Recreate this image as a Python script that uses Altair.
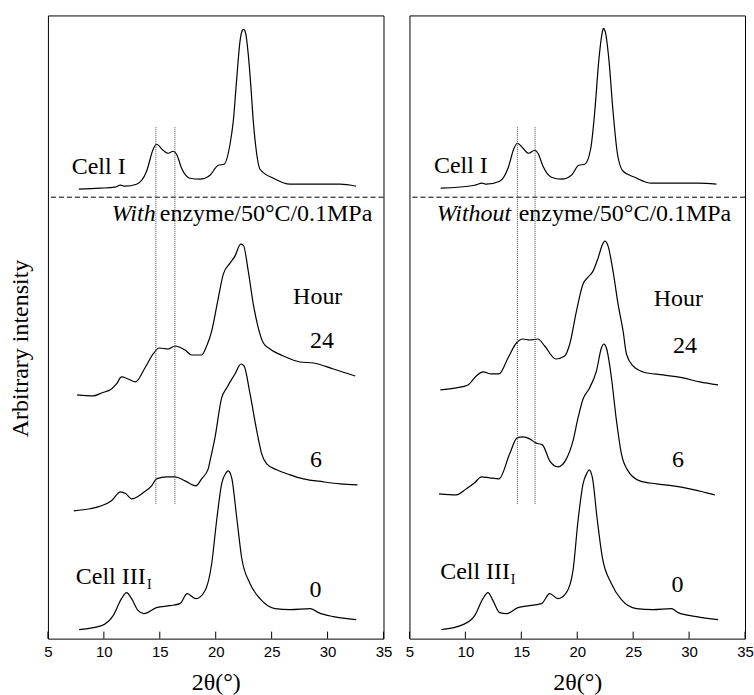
import altair as alt
import pandas as pd

# ---------------- data (2theta in degrees, arbitrary intensity incl. offsets) -------------
# Left panel: With enzyme
L_cell1_x = [7.76, 9.64, 10.98, 11.49, 11.88, 12.92, 13.82, 14.41, 14.71, 15.30, 15.75, 16.20, 16.50, 16.95, 17.70, 18.59, 19.49, 20.23, 20.74, 21.28, 21.57, 21.88, 22.17, 22.38, 22.50, 22.68, 22.91, 23.13, 23.36, 23.60, 23.96, 25.15, 26.65, 29.04, 31.13, 32.56]
L_cell1_y = [450, 451, 452, 454, 453, 455, 468, 490, 495, 489, 486, 488, 485, 471, 461, 460, 464, 474, 475, 495, 518, 561, 598, 609, 610, 606, 585, 555, 518, 491, 470, 461, 455, 455, 455, 453]

L_h24_x = [7.61, 9.04, 9.79, 10.68, 11.13, 11.58, 12.17, 12.83, 13.67, 14.41, 14.95, 15.75, 16.35, 17.25, 17.85, 18.74, 19.19, 19.64, 19.78, 20.23, 20.68, 21.28, 21.72, 22.23, 22.47, 22.91, 23.36, 23.81, 24.26, 24.86, 26.05, 27.54, 28.73, 30.52, 32.47]
L_h24_y = [244, 243, 246, 250, 255, 262, 260, 257, 271, 285, 291, 290, 293, 289, 284, 284, 293, 308, 315, 341, 365, 376, 383, 395, 394, 368, 335, 311, 296, 290, 283, 277, 276, 270, 263]

L_h6_x = [7.31, 8.74, 9.79, 10.68, 11.49, 11.97, 12.48, 13.51, 14.27, 14.71, 15.61, 16.35, 17.25, 18.23, 18.74, 19.33, 19.49, 19.93, 20.53, 20.98, 21.72, 22.26, 22.53, 23.07, 23.67, 24.11, 24.56, 25.46, 26.65, 27.84, 29.63, 31.12, 32.67]
L_h6_y = [128, 130, 133, 138, 147, 145, 140, 146, 153, 160, 162, 162, 158, 153, 160, 170, 178, 201, 241, 251, 265, 275, 273, 245, 208, 185, 175, 169, 164, 160, 157, 155, 154]

L_h0_x = [7.78, 9.79, 10.83, 11.58, 12.03, 12.48, 13.07, 13.58, 14.71, 15.90, 16.80, 17.45, 18.23, 19.04, 19.64, 20.08, 20.53, 20.92, 21.12, 21.43, 21.88, 22.32, 23.07, 23.96, 25.30, 26.65, 28.44, 29.18, 30.52, 32.56]
L_h0_y = [9, 13, 23, 40, 46, 40, 28, 25, 31, 33, 35, 45, 40, 48, 75, 118, 155, 166, 168, 161, 121, 81, 55, 40, 30, 29, 30, 26, 22, 19]

# Right panel: Without enzyme
R_cell1_x = [7.79, 10.83, 11.49, 11.88, 13.07, 13.81, 14.35, 14.65, 15.15, 15.66, 16.20, 16.49, 16.94, 17.69, 18.59, 19.48, 20.13, 20.67, 21.21, 21.57, 21.92, 22.22, 22.34, 22.52, 22.82, 23.20, 23.60, 24.10, 25.14, 26.64, 28.72, 30.81, 32.45]
R_cell1_y = [451, 454, 456, 455, 458, 471, 491, 496, 491, 486, 489, 486, 473, 462, 460, 464, 474, 475, 491, 528, 578, 606, 611, 607, 581, 528, 485, 468, 462, 456, 456, 456, 455]

R_h24_x = [7.76, 9.19, 10.23, 10.98, 11.57, 12.33, 13.0, 13.81, 14.56, 15.15, 15.75, 16.49, 17.09, 18.08, 18.88, 19.33, 19.93, 20.52, 20.97, 21.41, 21.86, 22.31, 22.46, 22.76, 23.20, 23.65, 24.10, 24.40, 24.99, 25.89, 27.67, 29.46, 30.96, 32.59]
R_h24_y = [249, 251, 254, 263, 267, 265, 265, 281, 296, 300, 299, 300, 293, 280, 283, 295, 328, 355, 362, 368, 381, 396, 398, 393, 368, 335, 308, 285, 273, 267, 264, 261, 257, 254]

R_h6_x = [7.64, 9.19, 10.09, 10.83, 11.43, 12.17, 13.0, 13.96, 14.62, 15.15, 15.75, 16.29, 16.89, 17.54, 18.28, 19.03, 19.62, 20.07, 20.52, 21.05, 21.72, 22.16, 22.37, 22.61, 23.06, 23.51, 23.95, 24.54, 25.59, 27.08, 28.57, 30.06, 31.56, 32.30]
R_h6_y = [145, 144, 150, 156, 162, 161, 160, 185, 201, 202, 200, 196, 194, 178, 172, 180, 198, 221, 240, 250, 268, 291, 295, 291, 261, 218, 185, 168, 158, 155, 153, 150, 146, 144]

R_h0_x = [7.85, 9.79, 10.83, 11.57, 12.02, 12.47, 13.07, 13.67, 14.70, 15.75, 16.80, 17.54, 18.28, 19.03, 19.62, 20.07, 20.52, 20.88, 21.06, 21.36, 21.77, 22.25, 23.06, 23.95, 25.30, 26.78, 28.43, 29.02, 30.66, 32.59]
R_h0_y = [9, 14, 23, 40, 46, 38, 26, 25, 31, 33, 35, 45, 40, 46, 68, 118, 155, 166, 169, 161, 121, 81, 55, 39, 30, 29, 30, 26, 22, 19]

# separator and reference lines
sep_level = [442]
L_vline_x = [14.65, 16.35]
R_vline_x = [14.65, 16.23]
vline_lo = 135
vline_hi = 512
tick_values = [5, 10, 15, 20, 25, 30, 35]

# annotation texts
L_text = ["Cell I", "enzyme/50°C/0.1MPa", "Hour", "24", "6", "0", "Cell III"]
L_text_x = [7.13, 15.0, 26.92, 28.44, 28.44, 28.38, 7.49]
L_text_y = [465, 418, 335, 291, 172, 42, 55]
R_text = ["Cell I", "enzyme/50°C/0.1MPa", "Hour", "24", "6", "0", "Cell III"]
R_text_x = [7.19, 14.77, 26.84, 28.57, 28.48, 28.43, 7.75]
R_text_y = [466, 418, 333, 286, 172, 47, 60]
L_ital = ["With"]; L_ital_x = [10.7]; L_ital_y = [418]
R_ital = ["Without"]; R_ital_x = [7.43]; R_ital_y = [418]
L_sub = ["I"]; L_sub_x = [13.85]; L_sub_y = [50]
R_sub = ["I"]; R_sub_x = [14.05]; R_sub_y = [55]

SERIF = "Liberation Serif, 'Times New Roman', Times, 'DejaVu Serif', serif"
SANS = "Liberation Sans, Arial, Helvetica, sans-serif"
FS = 24
W, H = 336, 624

xs = alt.Scale(domain=[5, 35], nice=False, zero=False)
ys = alt.Scale(domain=[0, 624], nice=False, zero=False)


def xenc(field="x"):
    return alt.X(f"{field}:Q", scale=xs, title="2θ(°)",
                 axis=alt.Axis(values=tick_values, format="d", ticks=False, domain=False, grid=False,
                               labelFont=SANS, labelFontSize=15, labelColor="black",
                               labelPadding=6, labelFlush=False, labelOverlap=False,
                               titleFont=SERIF, titleFontSize=FS, titleFontWeight="normal",
                               titleColor="black", titlePadding=11))


def yenc(show_title, field="y"):
    if show_title:
        ax = alt.Axis(labels=False, ticks=False, domain=False, grid=False,
                      titleFont=SERIF, titleFontSize=FS, titleFontWeight="normal",
                      titleColor="black", titlePadding=15, titleY=333)
        return alt.Y(f"{field}:Q", scale=ys, title="Arbitrary intensity", axis=ax)
    return alt.Y(f"{field}:Q", scale=ys, axis=None)


def panel(curves, vx, texts, ital, sub, show_title):
    rows = []
    for name, (cx, cy) in curves.items():
        for a, b in zip(cx, cy):
            rows.append({"series": name, "x": a, "y": b})
    df = pd.DataFrame(rows)
    lines = alt.Chart(df).mark_line(color="black", strokeWidth=1.2, interpolate="monotone").encode(
        x=xenc(), y=yenc(show_title), detail="series:N")

    sep = alt.Chart(pd.DataFrame({"y": sep_level})).mark_rule(
        color="black", strokeWidth=1, strokeDash=[5, 3]).encode(y=yenc(show_title))

    vdf = pd.DataFrame({"x": vx, "y": [vline_lo] * len(vx), "y2": [vline_hi] * len(vx)})
    vl = alt.Chart(vdf).mark_rule(color="#444", strokeWidth=1, strokeDash=[1, 1]).encode(
        x=xenc(), y=yenc(show_title), y2="y2:Q")

    tdf = pd.DataFrame({"x": tick_values, "y": [0] * len(tick_values), "y2": [7] * len(tick_values)})
    tk = alt.Chart(tdf).mark_rule(color="black", strokeWidth=1).encode(
        x=xenc(), y=yenc(show_title), y2="y2:Q")

    t1 = alt.Chart(pd.DataFrame({"x": texts[1], "y": texts[2], "t": texts[0]})).mark_text(
        align="left", baseline="alphabetic", font=SERIF, fontSize=FS, color="black").encode(
        x=xenc(), y=yenc(show_title), text="t:N")
    t2 = alt.Chart(pd.DataFrame({"x": ital[1], "y": ital[2], "t": ital[0]})).mark_text(
        align="left", baseline="alphabetic", font=SERIF, fontSize=FS, fontStyle="italic",
        color="black").encode(x=xenc(), y=yenc(show_title), text="t:N")
    t3 = alt.Chart(pd.DataFrame({"x": sub[1], "y": sub[2], "t": sub[0]})).mark_text(
        align="left", baseline="alphabetic", font=SERIF, fontSize=14, color="black").encode(
        x=xenc(), y=yenc(show_title), text="t:N")

    return alt.layer(lines, sep, vl, tk, t1, t2, t3).properties(width=W, height=H)


left = panel({"Cell I": (L_cell1_x, L_cell1_y), "24": (L_h24_x, L_h24_y),
              "6": (L_h6_x, L_h6_y), "0": (L_h0_x, L_h0_y)},
             L_vline_x, (L_text, L_text_x, L_text_y), (L_ital, L_ital_x, L_ital_y),
             (L_sub, L_sub_x, L_sub_y), True)
right = panel({"Cell I": (R_cell1_x, R_cell1_y), "24": (R_h24_x, R_h24_y),
               "6": (R_h6_x, R_h6_y), "0": (R_h0_x, R_h0_y)},
              R_vline_x, (R_text, R_text_x, R_text_y), (R_ital, R_ital_x, R_ital_y),
              (R_sub, R_sub_x, R_sub_y), False)

chart = alt.hconcat(left, right, spacing=26, bounds="flush").properties(
    padding={"left": 8, "top": 14, "right": 0, "bottom": 0},
    background="white",
).configure_view(stroke="black", strokeWidth=1)

chart.save("out.html", embed_options={"renderer": "svg", "actions": False})
